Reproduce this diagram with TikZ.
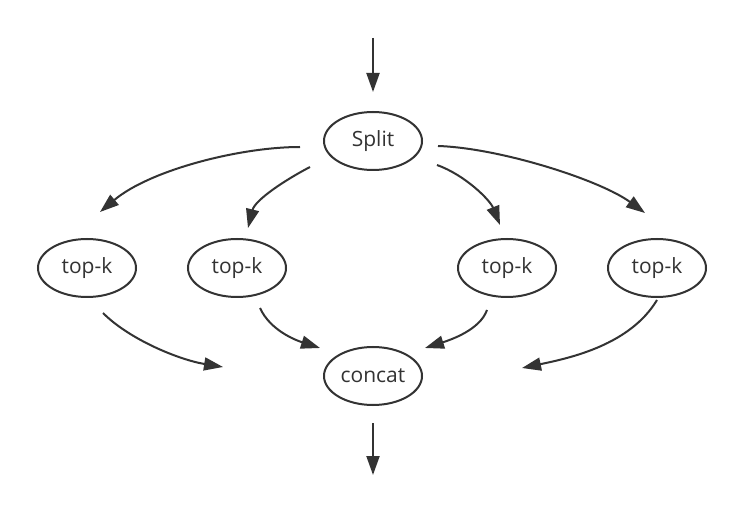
\documentclass[tikz,border=0pt]{standalone}
\usepackage{fontspec}
\setmainfont{Open Sans}
\usepackage{xcolor}
\usepackage{tikz}
\usetikzlibrary{shapes.geometric, arrows.meta, positioning}
\definecolor{inkgray}{HTML}{333333}

\begin{document}
\begin{tikzpicture}[x=1pt, y=-1pt,
    op/.style={ellipse, draw=inkgray, line width=2pt, minimum width=98pt, minimum height=58pt, inner sep=0pt, text=inkgray, font=\fontsize{21}{24}\selectfont},
    flow/.style={draw=inkgray, line width=2pt, -{Triangle[length=19pt,width=13pt]}}]
    \useasboundingbox[fill=white] (0,0) rectangle (744,510);

    % Nodes
    \node[op] (split) at (373,141) {Split};
    \node[op] (topk1) at (87,268) {top-k};
    \node[op] (topk2) at (237,268) {top-k};
    \node[op] (topk3) at (507,268) {top-k};
    \node[op] (topk4) at (657,268) {top-k};
    \node[op] (concat) at (373,376) {concat};

    % Input / output
    \coordinate (in) at (373,38);
    \coordinate (out) at (373,475);
    \draw[flow, shorten >=19pt] (in) -- (split.north);
    \draw[flow, shorten <=17pt] (concat.south) -- (out);

    % Split -> top-k
    \draw[flow] ([shift={(-73,6)}]split.center) .. controls +(-60,0) and +(50,-42) .. ([shift={(13,-56)}]topk1.center);
    \draw[flow] ([shift={(-63,26)}]split.center) .. controls +(-25,13) and +(7,-28) .. ([shift={(11,-40)}]topk2.center);
    \draw[flow] ([shift={(64,24)}]split.center) .. controls +(28,10) and +(-10,-25) .. ([shift={(-7,-43)}]topk3.center);
    \draw[flow] ([shift={(65,5)}]split.center) .. controls +(62,2) and +(-45,-33) .. ([shift={(-12,-55)}]topk4.center);

    % top-k -> concat
    \draw[flow] ([shift={(16,45)}]topk1.center) .. controls +(27,27) and +(-43,-7) .. ([shift={(-150,-9)}]concat.center);
    \draw[flow] ([shift={(23,40)}]topk2.center) .. controls +(10,22) and +(-25,-8) .. ([shift={(-53,-28)}]concat.center);
    \draw[flow] ([shift={(-20,42)}]topk3.center) .. controls +(-7,20) and +(25,-8) .. ([shift={(52,-28)}]concat.center);
    \draw[flow] ([shift={(0,32)}]topk4.center) .. controls +(-27,45) and +(48,-10) .. ([shift={(149,-8)}]concat.center);
\end{tikzpicture}
\end{document}
